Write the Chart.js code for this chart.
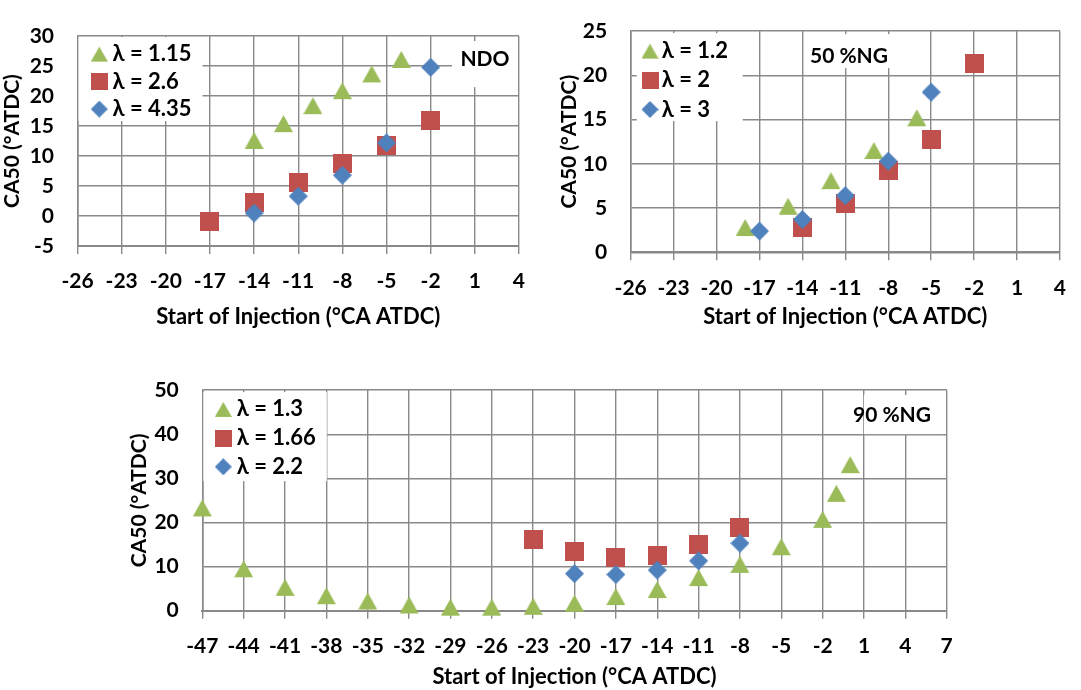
<!DOCTYPE html>
<html>
<head>
<meta charset="utf-8">
<script src="https://cdn.jsdelivr.net/npm/chart.js@4.4.0/dist/chart.umd.min.js"></script>
<style>
body{margin:0;background:#fff;width:1081px;height:690px;overflow:hidden;position:relative;}
canvas{position:absolute;}
</style>
</head>
<body>
<canvas id="grafNdo" width="540" height="330" style="left:0;top:0"></canvas>
<canvas id="graf50" width="541" height="335" style="left:540px;top:-5px"></canvas>
<canvas id="graf90" width="860" height="336" style="left:120px;top:354px"></canvas>
<script>
//-------------datos-----------------//
// NDO
const nombresNdo = ['λ = 1.15', 'λ = 2.6', 'λ = 4.35'];
const soiNdoA = [-14, -12, -10, -8, -6, -4];
const ca50NdoA = [12.6, 15.4, 18.4, 20.9, 23.7, 26.1];
const soiNdoB = [-17, -14, -11, -8, -5, -2];
const ca50NdoB = [-0.9, 2.2, 5.6, 8.8, 11.8, 15.9];
const soiNdoC = [-14, -11, -8, -5, -2];
const ca50NdoC = [0.5, 3.3, 6.8, 12.2, 24.8];
const ticksYNdo = [-5, 30, 5];

// 50 %NG
const nombres50 = ['λ = 1.2', 'λ = 2', 'λ = 3'];
const soi50A = [-18, -15, -12, -9, -6];
const ca5050A = [2.8, 5.2, 8.1, 11.5, 15.2];
const soi50B = [-14, -11, -8, -5, -2];
const ca5050B = [2.8, 5.5, 9.2, 12.8, 21.3];
const soi50C = [-17, -14, -11, -8, -5];
const ca5050C = [2.4, 3.7, 6.4, 10.3, 18.1];
const ticksY50 = [0, 25, 5];

// 90 %NG
const nombres90 = ['λ = 1.3', 'λ = 1.66', 'λ = 2.2'];
const soi90A = [-47, -44, -41, -38, -35, -32, -29, -26, -23, -20, -17, -14, -11, -8, -5, -2, -1, 0];
const ca5090A = [23.3, 9.5, 5.3, 3.4, 2.2, 1.3, 0.8, 0.8, 1.0, 1.7, 3.2, 4.8, 7.5, 10.5, 14.5, 20.7, 26.6, 33.1];
const soi90B = [-23, -20, -17, -14, -11, -8];
const ca5090B = [16.1, 13.5, 12.0, 12.4, 15.1, 18.9];
const soi90C = [-20, -17, -14, -11, -8];
const ca5090C = [8.4, 8.2, 9.2, 11.3, 15.3];
const ticksY90 = [0, 50, 10];

const ticksXCorto = [-26, 4, 3];
const ticksXLargo = [-47, 7, 3];

const tituloX = 'Start of Injection (°CA ATDC)';
const tituloY = 'CA50 (°ATDC)';
//-----------------------------------//

const COLORES = ['#9BBB59', '#C0504D', '#4F81BD'];
const FORMAS = ['triangle', 'rect', 'rectRot'];
const GRIS = '#898989';
const fuente = {family: 'Lato', size: 21, weight: 'bold'};
const fuenteTitulo = {family: 'Lato', size: 22, weight: 'bold'};

Chart.defaults.font.family = 'Lato';
Chart.defaults.color = '#000';

function marcador(forma, color, tam){
	const c = document.createElement('canvas');
	c.width = tam;
	c.height = tam;
	const g = c.getContext('2d');
	g.fillStyle = color;
	g.beginPath();
	if (forma == 'triangle') {
		g.moveTo(tam/2, 1);
		g.lineTo(tam, tam-1);
		g.lineTo(0, tam-1);
	} else if (forma == 'rect') {
		g.rect(0, 0, tam, tam);
	} else {
		g.moveTo(tam/2, 0);
		g.lineTo(tam, tam/2);
		g.lineTo(tam/2, tam);
		g.lineTo(0, tam/2);
	}
	g.closePath();
	g.fill();
	return c;
}

// leyenda y etiqueta dentro del area del grafico, con fondo blanco
function cajas(cfg){
	return {
		id: 'cajas',
		beforeDatasetsDraw(chart){
			const ctx = chart.ctx;
			const a = chart.chartArea;
			const L = cfg.leyenda;
			const E = cfg.etiqueta;
			ctx.save();
			ctx.fillStyle = '#fff';
			ctx.fillRect(a.left + L.x, a.top + L.y, L.w, L.h);
			ctx.fillRect(a.left + E.x, a.top + E.y, E.w, E.h);
			ctx.fillStyle = '#000';
			ctx.font = 'bold 22px Lato';
			ctx.textBaseline = 'middle';
			ctx.textAlign = 'left';
			for (var i = 0; i < cfg.nombres.length; i++) {
				const y = a.top + L.y0 + i*L.dy;
				const m = marcador(FORMAS[i], COLORES[i], 17);
				ctx.drawImage(m, a.left + L.mx - m.width/2, y - m.height/2);
				ctx.fillText(cfg.nombres[i], a.left + L.tx, y);
			}
			ctx.font = 'bold 21px Lato';
			ctx.textAlign = 'center';
			ctx.fillText(E.texto, a.left + E.tx, a.top + E.ty);
			ctx.restore();
		}
	};
}

function crearGraf(id, cfg){
	const datasets = [];
	for (var i = 0; i < cfg.xs.length; i++) {
		const puntos = [];
		for (var k = 0; k < cfg.xs[i].length; k++) {
			puntos.push({x: cfg.xs[i][k], y: cfg.ys[i][k]});
		}
		datasets.push({
			label: cfg.nombres[i],
			data: puntos,
			pointStyle: marcador(FORMAS[i], COLORES[i], 19),
			pointRadius: 10,
			pointHoverRadius: 10,
			backgroundColor: COLORES[i],
			borderColor: COLORES[i],
			showLine: false,
			clip: false,
			order: cfg.xs.length - i   // la ultima serie queda encima, como en Excel
		});
	}
	new Chart(document.getElementById(id), {
		type: 'scatter',
		data: {datasets: datasets},
		options: {
			responsive: false,
			animation: false,
			devicePixelRatio: 1,
			events: [],
			layout: {padding: {top: 15, right: cfg.derecha, left: 0, bottom: 0}},
			plugins: {legend: {display: false}, tooltip: {enabled: false}},
			scales: {
				x: {
					type: 'linear',
					min: cfg.ticksX[0], max: cfg.ticksX[1],
					ticks: {stepSize: cfg.ticksX[2], autoSkip: false, maxRotation: 0, padding: 15, color: '#000', font: fuente},
					grid: {color: GRIS, lineWidth: 1.4, tickLength: 8, tickColor: GRIS, tickWidth: 1.4},
					border: {color: GRIS, width: 2},
					title: {display: true, text: tituloX, color: '#000', font: fuenteTitulo, padding: {top: 0, bottom: 0}},
					afterFit: function(s){ s.height = cfg.altoX; }
				},
				y: {
					type: 'linear',
					min: cfg.ticksY[0], max: cfg.ticksY[1],
					ticks: {stepSize: cfg.ticksY[2], padding: 23.5, color: '#000', font: fuente},
					grid: {color: GRIS, lineWidth: 1.4, drawTicks: false},
					border: {color: GRIS, width: 1.6},
					title: {display: true, text: tituloY, color: '#000', font: fuente, padding: {top: cfg.padTituloY, bottom: 0}},
					afterFit: function(s){ s.width = cfg.anchoY; }
				}
			}
		},
		plugins: [cajas(cfg)]
	});
}

crearGraf('grafNdo', {
	xs: [soiNdoA, soiNdoB, soiNdoC],
	ys: [ca50NdoA, ca50NdoB, ca50NdoC],
	nombres: nombresNdo,
	ticksX: ticksXCorto, ticksY: ticksYNdo,
	anchoY: 77.5, altoX: 84, derecha: 19, padTituloY: 0,
	leyenda: {x: 1, y: 1, w: 124, h: 84, mx: 21.8, tx: 35, y0: 18, dy: 27.5},
	etiqueta: {texto: 'NDO', x: 374.5, y: 5, w: 66, h: 46, tx: 407.5, ty: 23.3}
});

crearGraf('graf50', {
	xs: [soi50A, soi50B, soi50C],
	ys: [ca5050A, ca5050B, ca5050C],
	nombres: nombres50,
	ticksX: ticksXCorto, ticksY: ticksY50,
	anchoY: 90.7, altoX: 77.7, derecha: 6.7, padTituloY: 17,
	leyenda: {x: 6, y: 2, w: 106, h: 88, mx: 19.3, tx: 31, y0: 20, dy: 29.2},
	etiqueta: {texto: '50 %NG', x: 181, y: 3, w: 81, h: 34, tx: 218.3, ty: 25}
});

crearGraf('graf90', {
	xs: [soi90A, soi90B, soi90C],
	ys: [ca5090A, ca5090B, ca5090C],
	nombres: nombres90,
	ticksX: ticksXLargo, ticksY: ticksY90,
	anchoY: 82.3, altoX: 79.3, derecha: 33.3, padTituloY: 6.4,
	leyenda: {x: 1, y: 2, w: 123.5, h: 89, mx: 21, tx: 34.4, y0: 19.3, dy: 28.7},
	etiqueta: {texto: '90 %NG', x: 661.5, y: 5, w: 80, h: 39, tx: 689.7, ty: 25}
});
</script>
</body>
</html>
